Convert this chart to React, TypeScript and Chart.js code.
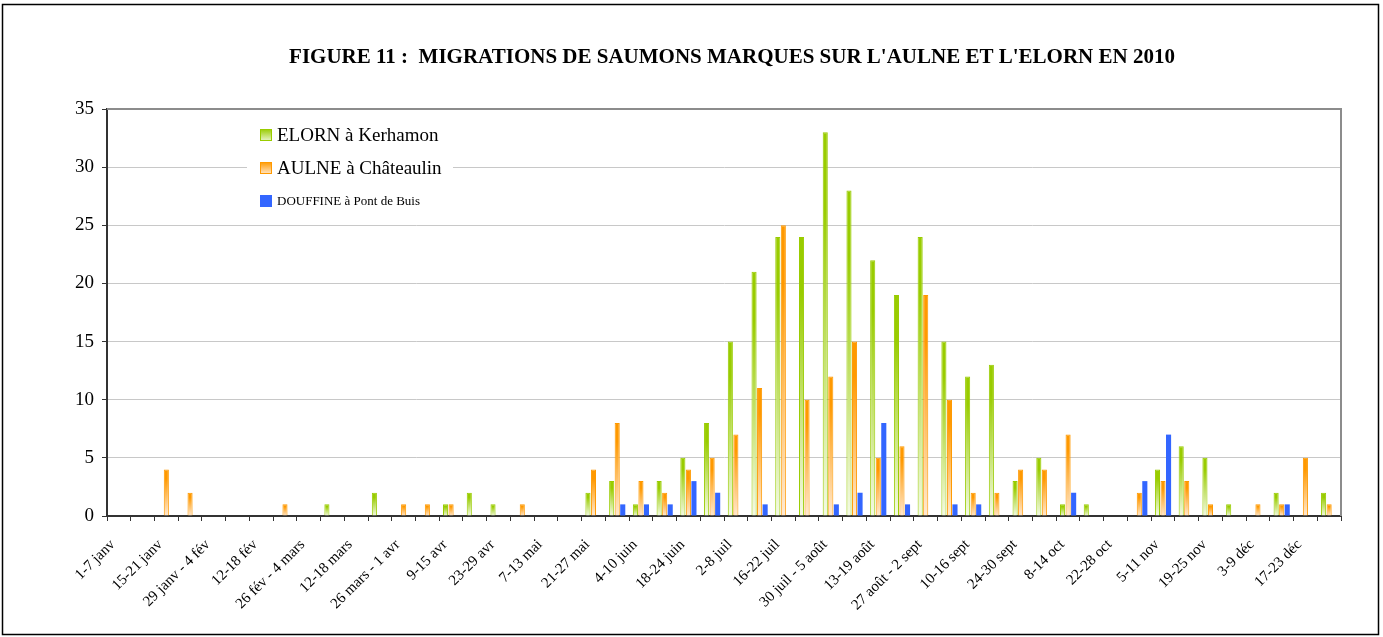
import React, { useEffect, useRef } from "react";
import { Chart, registerables } from "chart.js";

Chart.register(...registerables);

const weeks: string[] = [
  "1-7 janv", "8-14 janv", "15-21 janv", "22-28 janv", "29 janv - 4 fév", "5-11 fév",
  "12-18 fév", "19-25 fév", "26 fév - 4 mars", "5-11 mars", "12-18 mars", "19-25 mars",
  "26 mars - 1 avr", "2-8 avr", "9-15 avr", "16-22 avr", "23-29 avr", "30 avr - 6 mai",
  "7-13 mai", "14-20 mai", "21-27 mai", "28 mai - 3 juin", "4-10 juin", "11-17 juin",
  "18-24 juin", "25 juin - 1 juil", "2-8 juil", "9-15 juil", "16-22 juil", "23-29 juil",
  "30 juil - 5 août", "6-12 août", "13-19 août", "20-26 août", "27 août - 2 sept", "3-9 sept",
  "10-16 sept", "17-23 sept", "24-30 sept", "1-7 oct", "8-14 oct", "15-21 oct",
  "22-28 oct", "29 oct - 4 nov", "5-11 nov", "12-18 nov", "19-25 nov", "26 nov - 2 déc",
  "3-9 déc", "10-16 déc", "17-23 déc", "24-31 déc",
];

const elorn: number[] = [
  0, 0, 0, 0, 0, 0, 0, 0, 0, 1, 0, 2, 0,
  0, 1, 2, 1, 0, 0, 0, 2, 3, 1, 3, 5, 8,
  15, 21, 24, 24, 33, 28, 22, 19, 24, 15, 12, 13, 3,
  5, 1, 1, 0, 0, 4, 6, 5, 1, 0, 2, 0, 2,
];

const aulne: number[] = [
  0, 0, 4, 2, 0, 0, 0, 1, 0, 0, 0, 0, 1,
  1, 1, 0, 0, 1, 0, 0, 4, 8, 3, 2, 4, 5,
  7, 11, 25, 10, 12, 15, 5, 6, 19, 10, 2, 2, 4,
  4, 7, 0, 0, 2, 3, 3, 1, 0, 1, 1, 5, 1,
];

const douffine: number[] = [
  0, 0, 0, 0, 0, 0, 0, 0, 0, 0, 0, 0, 0,
  0, 0, 0, 0, 0, 0, 0, 0, 1, 1, 1, 3, 2,
  0, 1, 0, 0, 1, 2, 8, 1, 0, 1, 1, 0, 0,
  0, 2, 0, 0, 3, 7, 0, 0, 0, 0, 1, 0, 0,
];

const seriesNames: string[] = ["ELORN à Kerhamon", "AULNE à Châteaulin", "DOUFFINE à Pont de Buis"];
const yTicks: number[] = [0, 5, 10, 15, 20, 25, 30, 35];
const title = "FIGURE 11 :  MIGRATIONS DE SAUMONS MARQUES SUR L'AULNE ET L'ELORN EN 2010";

const GREEN = "#99CC00";
const ORANGE = "#FF9900";
const BLUE = "#3366FF";
const SERIF = "'Liberation Serif', 'Times New Roman', serif";

const gradFill = (top: string, bottom: string) => (ctx: any) => {
  const chart = ctx.chart;
  const v = ctx.raw;
  if (!chart.chartArea || ctx.type !== "data" || !v) return top;
  const y = chart.scales.y;
  const yt = y.getPixelForValue(v);
  const yb = y.getPixelForValue(0);
  const g = chart.ctx.createLinearGradient(0, yt, 0, yb);
  g.addColorStop(0, top);
  g.addColorStop(0.2, top);
  g.addColorStop(1, bottom);
  return g;
};

const decorPlugin = {
  id: "decor",
  beforeDatasetsDraw(chart: any) {
    const c = chart.ctx;
    c.save();
    c.fillStyle = "#fff";
    c.fillRect(247, 116, 206, 98);
    const items = [
      { name: seriesNames[0], y: 135, size: 19, col: GREEN, light: "#EAF5CC" },
      { name: seriesNames[1], y: 168, size: 19, col: ORANGE, light: "#FFE6C8" },
      { name: seriesNames[2], y: 201, size: 13, col: BLUE, light: BLUE },
    ];
    items.forEach((it) => {
      const g = c.createLinearGradient(0, it.y - 6, 0, it.y + 6);
      g.addColorStop(0, it.col);
      g.addColorStop(1, it.light);
      c.fillStyle = g;
      c.fillRect(260, it.y - 6, 12, 12);
      c.strokeStyle = it.col;
      c.lineWidth = 1;
      c.strokeRect(260.5, it.y - 5.5, 11, 11);
      c.fillStyle = "#000";
      c.font = `${it.size}px ${SERIF}`;
      c.textBaseline = "middle";
      c.textAlign = "left";
      c.fillText(it.name, 277, it.y + 1);
    });
    c.restore();
  },
  afterDraw(chart: any) {
    const c = chart.ctx;
    const { chartArea } = chart;
    c.save();
    c.strokeStyle = "#8C8C8C";
    c.lineWidth = 2;
    c.beginPath();
    c.moveTo(chartArea.left, chartArea.top);
    c.lineTo(chartArea.right, chartArea.top);
    c.lineTo(chartArea.right, chartArea.bottom);
    c.stroke();
    c.fillStyle = "#000";
    c.font = `bold 21px ${SERIF}`;
    c.textAlign = "center";
    c.textBaseline = "alphabetic";
    c.fillText(title, 732, 63);
    c.strokeStyle = "#000";
    c.lineWidth = 1.5;
    c.strokeRect(2.5, 4.5, 1376, 630);
    c.restore();
  },
};

export default function App() {
  const ref = useRef<HTMLCanvasElement>(null);
  useEffect(() => {
    if (!ref.current) return;
    const toData = (arr: number[]) => arr.map((v) => (v === 0 ? null : v));
    const chart = new Chart(ref.current, {
      type: "bar",
      data: {
        labels: weeks,
        datasets: [
          {
            label: seriesNames[0],
            data: toData(elorn),
            backgroundColor: gradFill(GREEN, "#F4FAE6"),
            borderColor: GREEN,
            borderWidth: 1,
          },
          {
            label: seriesNames[1],
            data: toData(aulne),
            backgroundColor: gradFill(ORANGE, "#FFE9D2"),
            borderColor: ORANGE,
            borderWidth: 1,
          },
          {
            label: seriesNames[2],
            data: toData(douffine),
            backgroundColor: BLUE,
            borderColor: BLUE,
            borderWidth: 0,
          },
        ],
      },
      options: {
        responsive: false,
        animation: false,
        datasets: { bar: { categoryPercentage: 0.7, barPercentage: 0.92 } },
        layout: { padding: { left: 0, top: 109, right: 42, bottom: 0 } },
        plugins: { legend: { display: false }, title: { display: false }, tooltip: { enabled: false } },
        scales: {
          x: {
            grid: { display: true, drawOnChartArea: false, drawTicks: true, tickLength: 5, tickColor: "#333", offset: true },
            border: { display: true, color: "#333", width: 2 },
            ticks: {
              autoSkip: false,
              minRotation: 45,
              maxRotation: 45,
              padding: 15,
              labelOffset: -6,
              color: "#000",
              font: { family: SERIF, size: 15 },
              callback: (_v: any, i: number) => (i % 2 === 0 ? weeks[i] : ""),
            },
            afterFit: (s: any) => { s.height = 121; },
          },
          y: {
            min: 0,
            max: 35,
            afterBuildTicks: (s: any) => { s.ticks = yTicks.map((v) => ({ value: v })); },
            grid: { color: "#C8C8C8", lineWidth: 1, tickLength: 5, tickColor: "#333" },
            border: { display: true, color: "#333", width: 2 },
            ticks: { color: "#000", padding: 8, font: { family: SERIF, size: 19 } },
            afterFit: (s: any) => { s.width = 107; },
          },
        },
      },
      plugins: [decorPlugin],
    });
    return () => chart.destroy();
  }, []);
  return (
    <div style={{ position: "fixed", left: 0, top: 0, width: 1383, height: 637, background: "#fff" }}>
      <canvas ref={ref} width={1383} height={637} style={{ display: "block" }} />
    </div>
  );
}
